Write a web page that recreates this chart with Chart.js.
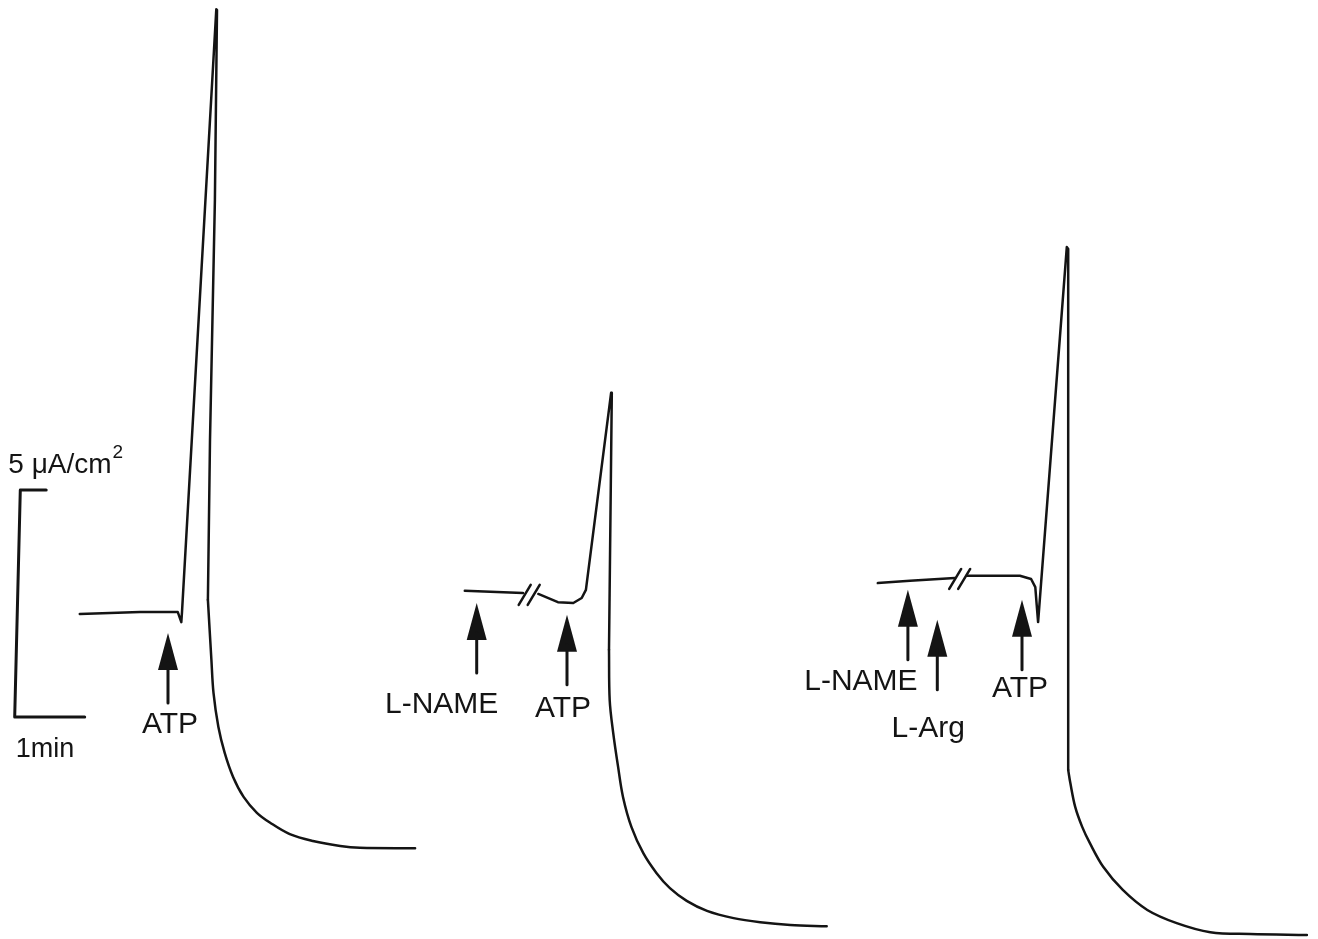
<!DOCTYPE html>
<html>
<head>
<meta charset="utf-8">
<script src="https://cdn.jsdelivr.net/npm/chart.js@4.4.1/dist/chart.umd.min.js"></script>
<style>
html, body { margin: 0; padding: 0; background: #fff; }
#wrap { width: 1318px; height: 939px; position: relative; }
</style>
</head>
<body>
<div id="wrap"><canvas id="trace"></canvas></div>
<script>
// time in min, short-circuit current in uA/cm2 (0 = bottom of the panel)
// control: baseline, ATP upstroke, fall
var ctrlTime    = [1.14, 1.57, 2.00, 2.43, 2.54, 2.59, 2.60, 3.09, 3.10, 3.07, 3.00, 2.97];
var ctrlCurrent = [7.16, 7.18, 7.20, 7.20, 7.20, 6.98, 7.20, 20.48, 20.46, 16.28, 10.99, 7.47];
// control: decay
var ctrlDecayTime    = [2.97, 3.02, 3.05, 3.12, 3.21, 3.33, 3.48, 3.67, 3.86, 4.14, 4.47, 4.86, 5.14, 5.93];
var ctrlDecayCurrent = [7.47, 6.15, 5.42, 4.67, 4.10, 3.57, 3.13, 2.78, 2.56, 2.31, 2.16, 2.05, 2.01, 2.00];

// L-NAME
var nameTime    = [6.64, 7.19, 7.47, 7.58, 7.69, 7.97, 8.19, 8.31, 8.37, 8.73, 8.74, 8.70];
var nameCurrent = [7.67, 7.64, 7.62, null, 7.60, 7.42, 7.40, 7.51, 7.69, 12.03, 12.00, 6.37];
var nameDecayTime    = [8.70, 8.71, 8.76, 8.83, 8.90, 9.02, 9.19, 9.38, 9.57, 9.81, 10.10, 10.48, 10.86, 11.29, 11.81];
var nameDecayCurrent = [6.37, 5.26, 4.54, 3.79, 3.13, 2.47, 1.89, 1.45, 1.12, 0.84, 0.62, 0.46, 0.37, 0.31, 0.28];

// L-NAME + L-Arg
var argTime    = [12.54, 13.00, 13.64, 13.72, 13.81, 14.14, 14.57, 14.73, 14.79, 14.81, 14.83, 15.24, 15.26, 15.26, 15.26];
var argCurrent = [7.84, 7.89, 7.95, null, 8.00, 8.00, 8.00, 7.93, 7.75, 7.36, 6.98, 15.24, 15.20, 6.37, 3.72];
var argDecayTime    = [15.26, 15.29, 15.36, 15.46, 15.57, 15.76, 16.04, 16.39, 16.81, 17.29, 17.86, 18.67];
var argDecayCurrent = [3.72, 3.44, 2.91, 2.47, 2.11, 1.59, 1.08, 0.64, 0.35, 0.15, 0.11, 0.09];

// calibration bar: 1 min x 5 uA/cm2
var barTime    = [0.66, 0.29, 0.21, 1.21];
var barCurrent = [9.89, 9.89, 4.89, 4.89];

// drug additions
var arrowLabels = ['ATP', 'L-NAME', 'ATP', 'L-NAME', 'L-Arg', 'ATP'];
var arrowTimes  = [2.40, 6.81, 8.10, 12.97, 13.39, 14.60];
var arrowTips   = [6.74, 7.40, 7.14, 7.69, 7.03, 7.47];

// time breaks (//)
var breakTimes  = [7.56, 13.71];
var breakLevels = [7.58, 7.93];

var ink = '#141414';
var font = '"Liberation Sans", Arial, Helvetica, sans-serif';
var labelShift = [[2, 30], [-35, 40], [-4, 32], [-47, 30], [-9, 47], [-2, 27]];

function pts(t, v) {
    return t.map(function (x, i) { return { x: x, y: v[i] }; });
}

function trace(t, v, w, tension) {
    return {
        data: pts(t, v),
        showLine: true,
        borderColor: ink,
        borderWidth: w,
        pointRadius: 0,
        tension: tension || 0,
        borderJoinStyle: 'round',
        borderCapStyle: 'round',
        spanGaps: false,
        clip: false
    };
}

var marks = {
    id: 'marks',
    afterDatasetsDraw: function (chart) {
        var ctx = chart.ctx, xs = chart.scales.x, ys = chart.scales.y;
        ctx.save();
        ctx.fillStyle = ink;
        ctx.strokeStyle = ink;
        ctx.lineCap = 'round';

        arrowTimes.forEach(function (t, i) {
            var x = xs.getPixelForValue(t), y = ys.getPixelForValue(arrowTips[i]);
            ctx.beginPath();
            ctx.moveTo(x, y);
            ctx.lineTo(x - 10, y + 37);
            ctx.lineTo(x + 10, y + 37);
            ctx.closePath();
            ctx.fill();
            ctx.lineWidth = 3;
            ctx.beginPath();
            ctx.moveTo(x, y + 30);
            ctx.lineTo(x, y + 70);
            ctx.stroke();
            ctx.font = '30px ' + font;
            ctx.textAlign = 'center';
            ctx.textBaseline = 'alphabetic';
            ctx.fillText(arrowLabels[i], x + labelShift[i][0], y + 70 + labelShift[i][1]);
        });

        breakTimes.forEach(function (t, i) {
            var x = xs.getPixelForValue(t), y = ys.getPixelForValue(breakLevels[i]);
            ctx.lineWidth = 2.5;
            [-4.5, 4.5].forEach(function (d) {
                ctx.beginPath();
                ctx.moveTo(x + d - 6, y + 10);
                ctx.lineTo(x + d + 6, y - 10);
                ctx.stroke();
            });
        });

        var bx = xs.getPixelForValue(barTime[1]), by = ys.getPixelForValue(barCurrent[1]);
        ctx.textAlign = 'left';
        ctx.textBaseline = 'alphabetic';
        ctx.font = '28px ' + font;
        ctx.fillText('5 \u03bcA/cm', bx - 12, by - 17);
        var w = ctx.measureText('5 \u03bcA/cm').width;
        ctx.font = '19px ' + font;
        ctx.fillText('2', bx - 12 + w + 1, by - 32);
        var lx = xs.getPixelForValue(barTime[2]), ly = ys.getPixelForValue(barCurrent[2]);
        ctx.font = '27px ' + font;
        ctx.fillText('1min', lx + 1, ly + 40);
        ctx.restore();
    }
};

new Chart('trace', {
    type: 'scatter',
    data: {
        datasets: [
            trace(ctrlTime, ctrlCurrent, 2.5),
            trace(ctrlDecayTime, ctrlDecayCurrent, 2.5, 0.35),
            trace(nameTime, nameCurrent, 2.5),
            trace(nameDecayTime, nameDecayCurrent, 2.5, 0.35),
            trace(argTime, argCurrent, 2.5),
            trace(argDecayTime, argDecayCurrent, 2.5, 0.35),
            trace(barTime, barCurrent, 3)
        ]
    },
    options: {
        responsive: true,
        maintainAspectRatio: false,
        animation: false,
        layout: { padding: 0 },
        scales: {
            x: { type: 'linear', min: 0, max: 1318 / 70, display: false },
            y: { type: 'linear', min: 0, max: 939 / 45.4, display: false }
        },
        plugins: {
            legend: { display: false },
            tooltip: { enabled: false }
        }
    },
    plugins: [marks]
});
</script>
</body>
</html>
